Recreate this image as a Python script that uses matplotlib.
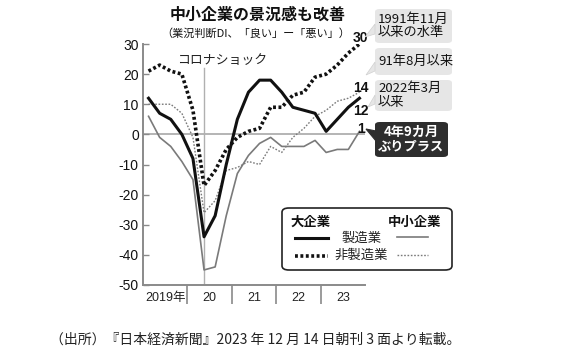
import matplotlib
matplotlib.use("Agg")
import matplotlib.pyplot as plt
from matplotlib.patches import FancyBboxPatch, Polygon
from matplotlib.lines import Line2D

plt.rcParams['font.family'] = ['Liberation Sans', 'Noto Sans CJK JP']
JP = ['Noto Sans CJK JP', 'Liberation Sans']

# tankan quarters (survey month)
quarters = [f"{y}-{m:02d}" for y in range(2019, 2024) for m in (3, 6, 9, 12)]

large_mfg = [12, 7, 5, 0, -8, -34, -27, -10, 5, 14, 18, 18, 14, 9, 8, 7, 1, 5, 9, 12]
large_nonmfg = [21, 23, 21, 20, 8, -17, -12, -5, -1, 1, 2, 9, 9, 13, 14, 19, 20, 23, 27, 30]
small_mfg = [6, -1, -4, -9, -15, -45, -44, -27, -13, -7, -3, -1, -4, -4, -4, -2, -6, -5, -5, 1]
small_nonmfg = [10, 10, 10, 7, -1, -26, -22, -12, -11, -9, -10, -4, -6, -1, 2, 6, 8, 11, 12, 14]

year_labels = ["2019年", "20", "21", "22", "23"]
years = [2019, 2020, 2021, 2022, 2023]
corona_shock = "2020-06"

W, H = 580, 353


def fx(px):
    return px / W


def fy(py):
    return 1 - py / H


def qx(q):
    return int(q[:4]) + (int(q[5:]) - 1.5) / 12


x = [qx(q) for q in quarters]

fig = plt.figure(figsize=(W / 100, H / 100), dpi=100)
ax = fig.add_axes([fx(143), fy(285), 222 / W, 241 / H])

grey = '#8a8a8a'
ax.axhline(0, color='#a0a0a0', lw=1.1, zorder=1)
ax.axvline(qx(corona_shock), ymax=0.9, color='#b0b0b0', lw=1.0, zorder=1)

ax.plot(x, small_mfg, color='#7a7a7a', lw=1.2, zorder=2)
ax.plot(x, small_nonmfg, color='#7a7a7a', lw=1.0, ls=(0, (1.2, 1.2)), zorder=2)
ax.plot(x, large_nonmfg, color='#111111', lw=2.6, ls=(0, (0.8, 0.7)), zorder=3)
ax.plot(x, large_mfg, color='#111111', lw=2.2, zorder=4)

ax.set_xlim(2019, 2024)
ax.set_ylim(-50, 30)
for s in ('top', 'right'):
    ax.spines[s].set_visible(False)
for s in ('left', 'bottom'):
    ax.spines[s].set_color(grey)
    ax.spines[s].set_linewidth(1.4)

ax.set_yticks(range(-50, 31, 10))
ax.set_yticklabels([str(v) for v in range(-50, 31, 10)])
ax.tick_params(axis='y', direction='in', length=4, width=1, color=grey,
               pad=3, labelsize=10, labelcolor='#111111')
ax.set_xticks([y + 0.5 for y in years])
ax.set_xticklabels(year_labels)
ax.set_xticks(years[1:], minor=True)
ax.tick_params(axis='x', which='major', length=0, pad=5, labelsize=9,
               labelcolor='#222222')
ax.tick_params(axis='x', which='minor', direction='out', length=14,
               width=1.2, color=grey)

ax.text(qx(corona_shock) + 0.4, 24.5, "コロナショック", ha='center', va='center',
        fontsize=9.3, family=JP, color='#222222')

# end labels (offsets to baseline, in points)
ends = [(large_nonmfg, "30", 1.5), (small_nonmfg, "14", 0.5),
        (large_mfg, "12", -12), (small_mfg, "1", -1)]
for series, lab, dy in ends:
    ax.annotate(lab, (x[-1], series[-1]), xytext=(1, dy), textcoords='offset points',
                ha='center', va='baseline', fontsize=10, fontweight='bold',
                color='#111111', annotation_clip=False)

# title
fig.text(fx(258), fy(15), "中小企業の景況感も改善", ha='center', va='center',
         fontsize=11.5, fontweight='bold', family=JP, color='#111111')
fig.text(fx(256), fy(33), "（業況判断DI、「良い」ー「悪い」）", ha='center', va='center',
         fontsize=8, family=JP, color='#111111')

# callout boxes
callouts = [
    ("1991年11月\n以来の水準", (375, 9, 452, 43), [(375, 24), (375, 34), (365, 37)]),
    ("91年8月以来", (375, 48, 452, 75), [(375, 62), (375, 71), (366, 75)]),
    ("2022年3月\n以来", (375, 80, 452, 111), [(375, 95), (375, 104), (368, 107)]),
]
for txt, (x0, y0, x1, y1), tail in callouts:
    fig.patches.append(FancyBboxPatch((fx(x0), fy(y1)), fx(x1) - fx(x0), fy(y0) - fy(y1),
                                      boxstyle="round,pad=0,rounding_size=0.008",
                                      transform=fig.transFigure, fc='#e6e6e6', ec='none'))
    fig.patches.append(Polygon([(fx(a), fy(b)) for a, b in tail], closed=True,
                               transform=fig.transFigure, fc='#e6e6e6', ec='#d0d0d0', lw=0.5))
    fig.text(fx(x0 + 3), fy((y0 + y1) / 2), txt, ha='left', va='center',
             fontsize=9.5, family=JP, color='#111111', linespacing=1.05)

fig.patches.append(FancyBboxPatch((fx(375), fy(157)), fx(448) - fx(375), fy(122) - fy(157),
                                  boxstyle="round,pad=0,rounding_size=0.008",
                                  transform=fig.transFigure, fc='#2e2e2e', ec='none'))
fig.patches.append(Polygon([(fx(376), fy(131)), (fx(376), fy(141)), (fx(366), fy(129))],
                           closed=True, transform=fig.transFigure, fc='#2e2e2e', ec='#2e2e2e', lw=0.8))
fig.text(fx(411), fy(139.5), "4年9カ月\nぶりプラス", ha='center', va='center',
         fontsize=9.5, fontweight='bold', family=JP, color='white', linespacing=1.05)

# legend
fig.patches.append(FancyBboxPatch((fx(282), fy(270)), fx(452) - fx(282), fy(208) - fy(270),
                                  boxstyle="round,pad=0,rounding_size=0.012",
                                  transform=fig.transFigure, fc='white', ec='#222222', lw=1.2))
fig.text(fx(291), fy(222), "大企業", ha='left', va='center', fontsize=9.6,
         fontweight='bold', family=JP, color='#111111')
fig.text(fx(441), fy(222), "中小企業", ha='right', va='center', fontsize=9.6,
         fontweight='bold', family=JP, color='#111111')
fig.text(fx(362), fy(238), "製造業", ha='center', va='center', fontsize=9.6,
         family=JP, color='#222222')
fig.text(fx(361), fy(255), "非製造業", ha='center', va='center', fontsize=9.6,
         family=JP, color='#222222')
samples = [(295, 328, 238, '#111111', 2.2, '-'), (397, 428, 237, '#7a7a7a', 1.2, '-'),
           (295, 328, 256, '#111111', 2.6, (0, (0.8, 0.7))),
           (397, 428, 255, '#7a7a7a', 1.0, (0, (1.2, 1.2)))]
for a, b, yy, c, lw, ls in samples:
    fig.add_artist(Line2D([fx(a), fx(b)], [fy(yy), fy(yy)], transform=fig.transFigure,
                          color=c, lw=lw, ls=ls))

# source
fig.text(fx(255), fy(340), "（出所）『日本経済新聞』2023 年 12 月 14 日朝刊 3 面より転載。",
         ha='center', va='center', fontsize=10, family=JP, color='#222222')

fig.savefig("out.png", dpi=100, facecolor='white')
